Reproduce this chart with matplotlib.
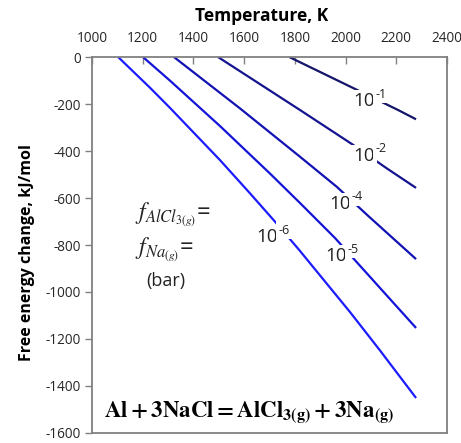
import matplotlib
matplotlib.use("Agg")
import matplotlib.pyplot as plt

plt.rcParams['font.family'] = ['Open Sans', 'DejaVu Sans']
plt.rcParams['mathtext.fontset'] = 'stix'
plt.rcParams['axes.unicode_minus'] = False

# Data (temperature K, free energy change kJ/mol)
labels = ["-1", "-2", "-4", "-5", "-6"]
T_m1 = [1778, 2030, 2208, 2278]
G_m1 = [0, -132, -226, -265]
T_m2 = [1497, 1821, 2030, 2160, 2278]
G_m2 = [0, -226, -374, -472, -557]
T_m4 = [1323, 1584, 1821, 1965, 2089, 2278]
G_m4 = [0, -219, -425, -552, -676, -860]
T_m5 = [1201, 1308, 1505, 1702, 1821, 1959, 2065, 2278]
G_m5 = [0, -101, -294, -496, -622, -771, -898, -1153]
T_m6 = [1103, 1229, 1308, 1505, 1623, 1722, 1817, 2018, 2136, 2278]
G_m6 = [0, -131, -217, -439, -580, -701, -821, -1086, -1249, -1451]

series_T = [T_m1, T_m2, T_m4, T_m5, T_m6]
series_G = [G_m1, G_m2, G_m4, G_m5, G_m6]
colors = ['#14146a', '#141490', '#1212b4', '#1414d8', '#1c1cff']
label_pos = [(2116, -187), (2116, -421), (2022, -625), (2006, -847), (1734, -766)]

xticks = [1000, 1200, 1400, 1600, 1800, 2000, 2200, 2400]
yticks = [0, -200, -400, -600, -800, -1000, -1200, -1400, -1600]

fig = plt.figure(figsize=(4.61, 4.43), dpi=100)
ax = fig.add_axes([0.1996, 0.0226, 0.7700, 0.8487])

for T, G, c in zip(series_T, series_G, colors):
    ax.plot(T, G, color=c, lw=1.6, solid_capstyle='butt', solid_joinstyle='round', zorder=2)

box = dict(facecolor='white', edgecolor='none', pad=1.5)
for lab, (x, y) in zip(labels, label_pos):
    ax.annotate('10', xy=(x, y), ha='right', va='center', fontsize=13.5,
                color='#222222', zorder=3, bbox=box)
    ax.annotate(lab, xy=(x, y), xytext=(0.3, 5), textcoords='offset points',
                ha='left', va='center', fontsize=9, color='#222222', zorder=3, bbox=box)

ax.set_xlim(1000, 2400)
ax.set_ylim(-1600, 0)
ax.set_xticks(xticks)
ax.set_yticks(yticks)
ax.xaxis.set_ticks_position('top')
ax.xaxis.set_label_position('top')
ax.tick_params(axis='x', direction='in', length=5, width=1, color='#808080',
               labelsize=9.8, pad=8, labelcolor='#262626')
ax.tick_params(axis='y', direction='out', length=5, width=1, color='#808080',
               labelsize=9.8, pad=3, labelcolor='#262626')
for s in ax.spines.values():
    s.set_color('#808080')
    s.set_linewidth(1.3)

ax.set_xlabel('Temperature, K', fontsize=12.5, fontweight='bold')
ax.xaxis.set_label_coords(0.479, 1.095)
ax.set_ylabel('Free energy change, kJ/mol', fontsize=11.5, fontweight='bold')
ax.yaxis.set_label_coords(-0.16, 0.479)

ax.text(1168, -672, r'$f_{AlCl_{3(g)}}$=', fontsize=17, ha='left', va='center', color='#222222')
ax.text(1168, -818, r'$f_{Na_{(g)}}$=', fontsize=17, ha='left', va='center', color='#222222')
ax.text(1292, -955, '(bar)', fontsize=13, ha='center', va='center', color='#222222')

ax.text(1619, -1512, r'$\mathbf{Al + 3NaCl = AlCl_{3(g)} + 3Na_{(g)}}$', fontsize=16.5,
        ha='center', va='center', color='black')

fig.savefig('out.png', dpi=100)
